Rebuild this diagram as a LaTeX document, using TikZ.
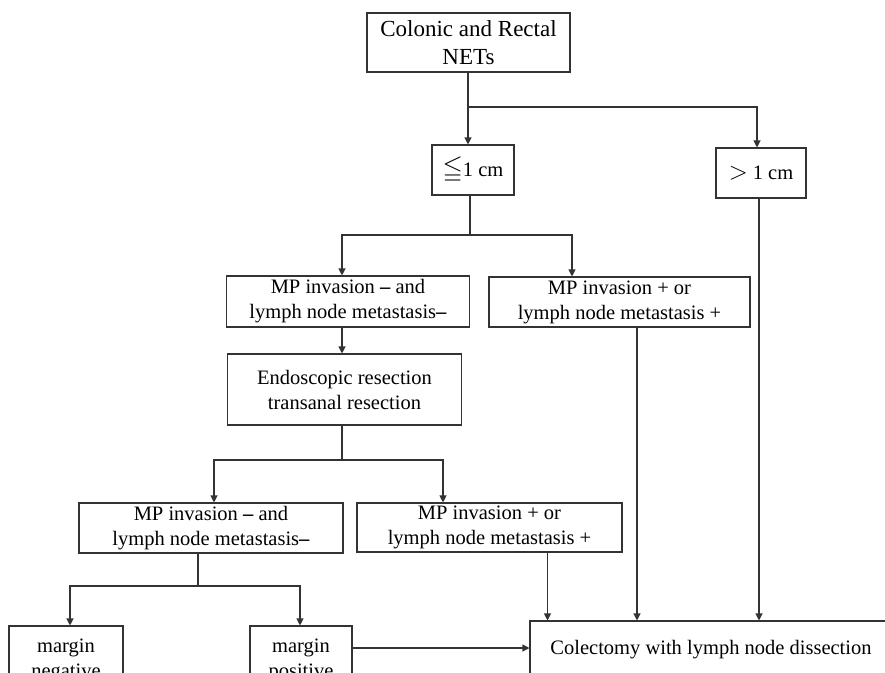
\documentclass[tikz,border=0pt]{standalone}
\usepackage{amsmath, amssymb}
\usepackage{fontspec}
\setmainfont{Liberation Serif}
\usepackage{tikz}
\usetikzlibrary{arrows.meta, positioning, calc}

\begin{document}
\begin{tikzpicture}[x=1pt, y=-1pt, >={Triangle[length=7pt, width=7pt]}]

\tikzset{
    flowbox/.style={rectangle, draw=black!80, line width=1.1pt, align=center, inner sep=2pt,
                    font=\fontsize{20.5}{25}\selectfont},
    flowline/.style={draw=black!80, line width=1.1pt},
    flowarrow/.style={->, draw=black!80, line width=1.1pt}
}

\useasboundingbox (0,0) rectangle (885,672);
\clip (0,0) rectangle (885,672);

% ── first level ──
\node[flowbox, minimum width=203pt, minimum height=59pt, font=\fontsize{23}{28}\selectfont]
    (Net) at (468.5, 42.5) {Colonic and Rectal\\NETs};
\node[flowbox, minimum width=82pt, minimum height=50pt]  (Small) at (473, 170)
    {{\fontsize{26}{26}\selectfont$\leqq$}1 cm};
\node[flowbox, minimum width=90pt, minimum height=50pt]  (Large) at (761, 173)
    {{\fontsize{26}{26}\selectfont$>$} 1 cm};

\coordinate (J1) at (468, 107);
\coordinate (J2) at (757, 107);
\draw[flowline]  (Net.south -| J1) -- (J1);
\draw[flowarrow] (J1) -- (J1 |- Small.north);
\draw[flowarrow] (J1) -- (J2) -- (J2 |- Large.north);

% ── second level ──
\node[flowbox, minimum width=243pt, minimum height=51pt] (MpNeg1) at (348, 301.5)
    {MP invasion \textbf{--} and\\lymph node metastasis\textbf{--}};
\node[flowbox, minimum width=261pt, minimum height=50pt] (MpPos1) at (619.5, 302)
    {MP invasion + or\\lymph node metastasis +};

\coordinate (J3) at (470, 235);
\coordinate (J3l) at (342, 235);
\coordinate (J3r) at (572, 235);
\draw[flowline]  (Small.south -| J3) -- (J3);
\draw[flowarrow] (J3) -- (J3l) -- (J3l |- MpNeg1.north);
\draw[flowarrow] (J3) -- (J3r) -- (J3r |- MpPos1.north);

\node[flowbox, minimum width=234pt, minimum height=71pt] (Endo) at (344.5, 389.5)
    {Endoscopic resection\\transanal resection};
\draw[flowarrow] (MpNeg1.south -| J3l) -- (Endo.north -| J3l);

% ── third level ──
\node[flowbox, minimum width=264pt, minimum height=50pt] (MpNeg2) at (211, 528)
    {MP invasion \textbf{--} and\\lymph node metastasis\textbf{--}};
\node[flowbox, minimum width=265pt, minimum height=49pt] (MpPos2) at (489.5, 527.5)
    {MP invasion + or\\lymph node metastasis +};

\coordinate (J4) at (342, 460);
\coordinate (J4l) at (214, 460);
\coordinate (J4r) at (443, 460);
\draw[flowline]  (Endo.south -| J4) -- (J4);
\draw[flowarrow] (J4) -- (J4l) -- (J4l |- MpNeg2.north);
\draw[flowarrow] (J4) -- (J4r) -- (J4r |- MpPos2.north);

% ── margins ──
\node[flowbox, minimum width=114pt, minimum height=68pt] (MarNeg) at (66, 660)
    {margin\\negative};
\node[flowbox, minimum width=102pt, minimum height=68pt] (MarPos) at (301, 660)
    {margin\\positive};

\coordinate (J5) at (198, 586);
\coordinate (J5l) at (70, 586);
\coordinate (J5r) at (300, 586);
\draw[flowline]  (MpNeg2.south -| J5) -- (J5);
\draw[flowarrow] (J5) -- (J5l) -- (J5l |- MarNeg.north);
\draw[flowarrow] (J5) -- (J5r) -- (J5r |- MarPos.north);

% ── colectomy ──
\node[flowbox, minimum width=362pt, minimum height=58pt] (Colect) at (711, 650)
    {Colectomy with lymph node dissection};

\draw[flowarrow] ([yshift=12pt]MarPos.east) -- ([yshift=12pt]MarPos.east -| Colect.west);
\draw[flowarrow] ([xshift=58pt]MpPos2.south) -- ([xshift=58pt]MpPos2.south |- Colect.north);
\draw[flowarrow] ([xshift=17.5pt]MpPos1.south) -- ([xshift=17.5pt]MpPos1.south |- Colect.north);
\draw[flowarrow] ([xshift=-2pt]Large.south) -- ([xshift=-2pt]Large.south |- Colect.north);

\end{tikzpicture}
\end{document}
